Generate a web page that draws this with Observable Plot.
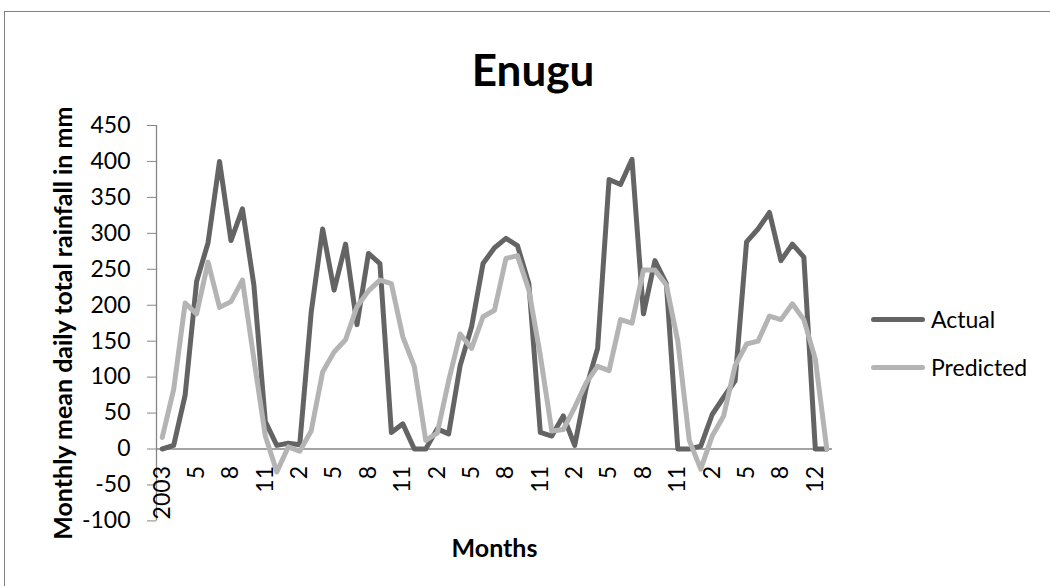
<!DOCTYPE html>
<html><head><meta charset="utf-8">
<script src="https://cdn.jsdelivr.net/npm/d3@7"></script>
<script src="https://cdn.jsdelivr.net/npm/@observablehq/plot@0.6"></script>
<style>
body{margin:0;background:#fff;font-family:Lato,sans-serif;}
#wrap{position:relative;width:1050px;height:586px;overflow:hidden;background:#fff}
#border{position:absolute;left:4px;top:11px;width:1200px;height:800px;border-left:1.6px solid #808080;border-top:1.6px solid #808080;box-sizing:border-box}
#title{position:absolute;left:0;top:43px;width:1066px;text-align:center;font:bold 44px Lato,sans-serif;line-height:52px;color:#000}
#chart{position:absolute;left:0;top:110px}
.item{position:absolute;left:871px;display:flex;align-items:center;white-space:nowrap;font:23px Lato,sans-serif;line-height:27.6px;color:#000}
.sw{width:54px;height:5px;border-radius:3px;margin-right:6px}
</style></head>
<body>
<div id="wrap">
  <div id="border"></div>
  <div id="title"></div>
  <div id="chart"></div>
  <div id="legend"></div>
</div>
<script>
const title = "Enugu";
const yLabel = "Monthly mean daily total rainfall in mm";
const xLabel = "Months";
const seriesNames = ["Actual", "Predicted"];
const seriesColors = ["#646464", "#b4b4b4"];
const actual = [0,5,75,233,287,400,290,334,228,38,5,8,6,190,306,221,285,173,272,258,23,35,0,0,28,21,116,170,258,280,293,283,230,23,18,46,5,85,140,375,368,403,188,262,230,0,0,4,48,72,95,288,306,329,262,285,267,0,0];
const predicted = [16,83,203,188,260,197,205,235,125,18,-32,3,-3,25,107,135,152,198,220,235,230,156,115,12,22,95,160,140,184,193,265,269,221,130,25,27,58,92,115,109,180,175,249,249,228,150,12,-28,18,46,116,146,150,185,180,202,180,125,0];
const tickIndex = [0,3,6,9,12,15,18,21,24,27,30,33,36,39,42,45,48,51,54,57];
const tickLabels = ["2003","5","8","11","2","5","8","11","2","5","8","11","2","5","8","11","2","5","8","12"];
const yTicks = [-100,-50,0,50,100,150,200,250,300,350,400,450];

const rows = [];
actual.forEach((v, i) => rows.push({i, value: v, series: seriesNames[0]}));
predicted.forEach((v, i) => rows.push({i, value: v, series: seriesNames[1]}));

const axisColor = "#868686";
document.getElementById("title").textContent = title;

const plot = Plot.plot({
  width: 1050, height: 476,
  marginTop: 15, marginBottom: 65.6, marginLeft: 156, marginRight: 218,
  style: {fontFamily: "Lato, sans-serif", fontSize: "23px", color: "#000", background: "transparent", overflow: "visible"},
  x: {type: "linear", domain: [-0.5, actual.length - 0.5], axis: null},
  y: {domain: [yTicks[0], yTicks[yTicks.length - 1]], axis: null},
  color: {domain: seriesNames, range: seriesColors},
  marks: [
    Plot.ruleY([0], {stroke: axisColor, strokeWidth: 1.3}),
    Plot.ruleX([-0.5], {y1: yTicks[0], y2: yTicks[yTicks.length - 1], stroke: axisColor, strokeWidth: 1.3}),
    Plot.axisY({ticks: yTicks, tickFormat: d => String(d), tickSize: 9, tickPadding: 17, stroke: axisColor, fill: "#000", fontSize: 23, label: null}),
    Plot.text(tickIndex, {x: d => d, y: () => 0, text: (d, k) => tickLabels[k], rotate: -90, textAnchor: "end", lineAnchor: "middle", dy: 17, fontSize: 23, fill: "#000"}),
    Plot.line(rows, {x: "i", y: "value", z: "series", stroke: "series", strokeWidth: 5, strokeLinejoin: "round", strokeLinecap: "round"}),
    Plot.text([yLabel], {text: d => d, frameAnchor: "left", rotate: -90, dx: -93, textAnchor: "middle", lineAnchor: "middle", fontWeight: "bold", fontSize: 25, fill: "#000"}),
    Plot.text([xLabel], {text: d => d, frameAnchor: "bottom", dy: 28, textAnchor: "middle", lineAnchor: "middle", fontWeight: "bold", fontSize: 25, fill: "#000"})
  ]
});
document.getElementById("chart").appendChild(plot);

const legend = document.getElementById("legend");
const legendTops = [305.5, 354];
seriesNames.forEach((name, k) => {
  const item = document.createElement("div");
  item.className = "item";
  item.style.top = legendTops[k] + "px";
  const sw = document.createElement("span");
  sw.className = "sw";
  sw.style.background = seriesColors[k];
  const tx = document.createElement("span");
  tx.textContent = name;
  item.appendChild(sw); item.appendChild(tx);
  legend.appendChild(item);
});
</script>
</body></html>
